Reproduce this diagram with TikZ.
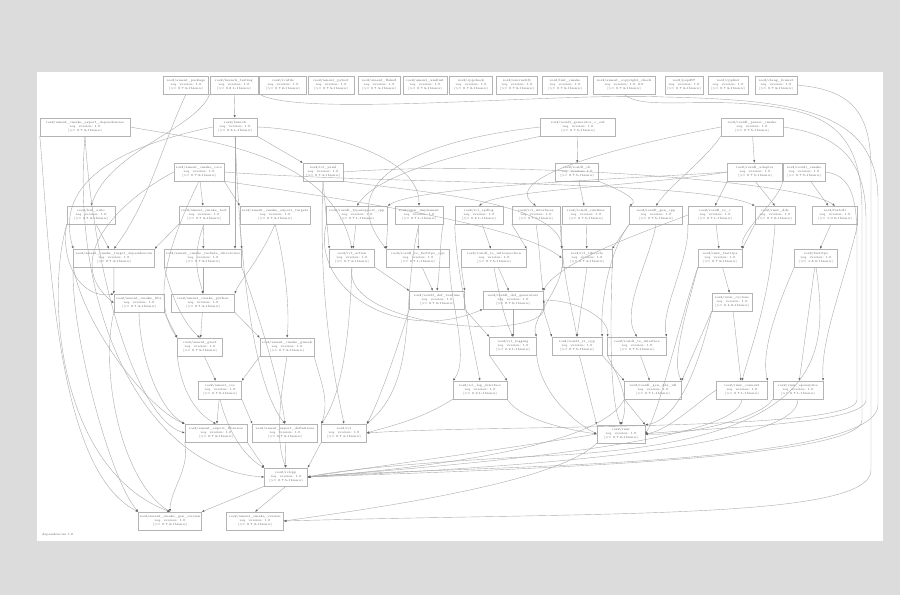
\documentclass[tikz,border=0pt]{standalone}
\usetikzlibrary{arrows.meta}
\definecolor{bggray}{HTML}{DCDCDC}
\definecolor{edgegray}{HTML}{ABABAB}
\definecolor{boxgray}{HTML}{B4B4B4}
\begin{document}
\begin{tikzpicture}[x=1pt,y=-1pt]
\tikzstyle{pkg}=[rectangle,draw=boxgray,fill=white,line width=0.4pt,inner sep=1pt,minimum height=18pt,align=center,text=black!65,font=\fontsize{3.1}{3.9}\selectfont]
\tikzset{
	dep/.style={draw=edgegray,line width=0.4pt,-{Latex[length=2.6pt,width=2.1pt,color=black!60]}},
	legend text/.style={text=black!65,font=\fontsize{3.1}{3.8}\selectfont,inner sep=0}
}
\useasboundingbox (0,0) rectangle (900,595);
\fill[bggray] (0,0) rectangle (900,595);
\fill[white] (37,72) rectangle (883,541);

\node[pkg,minimum width=45pt] (amentpkg) at (186,85) {ros2/ament\_package\\req. version: 1.0\\(>= 0.7.3-1bionic)};
\node[pkg,minimum width=48pt] (launchtest) at (234,85) {ros2/launch\_testing\\req. version: 1.0\\(>= 0.8.1-1bionic)};
\node[pkg,minimum width=47pt] (rcutils) at (283,85) {ros2/rcutils\\req. version: 1.0\\(>= 0.7.2-1bionic)};
\node[pkg,minimum width=46pt] (pytest) at (331,85) {ros2/ament\_pytest\\req. version: 1.0\\(>= 0.7.3-1bionic)};
\node[pkg,minimum width=42pt] (flakeeight) at (379,85) {ros2/ament\_flake8\\req. version: 1.0\\(>= 0.7.3-1bionic)};
\node[pkg,minimum width=44pt] (xmllint) at (425,85) {ros2/ament\_xmllint\\req. version: 1.0\\(>= 0.7.3-1bionic)};
\node[pkg,minimum width=43pt] (cppcheck) at (471,85) {ros2/cppcheck\\req. version: 1.0\\(>= 0.7.3-1bionic)};
\node[pkg,minimum width=41pt] (uncrust) at (517,85) {ros2/uncrustify\\req. version: 1.0\\(>= 0.7.3-1bionic)};
\node[pkg,minimum width=45pt] (lintcmake) at (565,85) {ros2/lint\_cmake\\req. version: 1.0\\(>= 0.7.3-1bionic)};
\node[pkg,minimum width=62pt] (copyright) at (624,85) {ros2/ament\_copyright\_check\\req. version: 1.0, 2.0\\(>= 0.7.3-1bionic)};
\node[pkg,minimum width=38pt] (pepdoc) at (684,85) {ros2/pep257\\req. version: 1.0\\(>= 0.7.3-1bionic)};
\node[pkg,minimum width=40pt] (cpplint) at (728,85) {ros2/cpplint\\req. version: 1.0\\(>= 0.7.3-1bionic)};
\node[pkg,minimum width=42pt] (clangfmt) at (776,85) {ros2/clang\_format\\req. version: 1.0\\(>= 0.7.3-1bionic)};

\node[pkg,minimum width=90pt] (exportdeps) at (85,127) {ros2/ament\_cmake\_export\_dependencies\\req. version: 1.0\\(>= 0.7.3-1bionic)};
\node[pkg,minimum width=44pt] (launch) at (235,127) {ros2/launch\\req. version: 1.0\\(>= 0.8.1-1bionic)};
\node[pkg,minimum width=75pt] (genc) at (578,127) {ros2/rosidl\_generator\_c\_ext\\req. version: 1.0\\(>= 0.7.5-1bionic)};
\node[pkg,minimum width=62pt] (parser) at (752,127) {ros2/rosidl\_parser\_cmake\\req. version: 1.0\\(>= 0.7.5-1bionic)};

\node[pkg,minimum width=50pt] (cmakecore) at (199,172) {ros2/ament\_cmake\_core\\req. version: 1.0\\(>= 0.7.3-1bionic)};
\node[pkg,minimum width=40pt] (rclyaml) at (323,172) {ros2/rcl\_yaml\\req. version: 1.0\\(>= 0.7.4-1bionic)};
\node[pkg,minimum width=43pt] (rosidlcli) at (577,172) {ros2/rosidl\_cli\\req. version: 1.0\\(>= 0.7.5-1bionic)};
\node[pkg,minimum width=55pt] (adapter) at (755,172) {ros2/rosidl\_adapter\\req. version: 1.0\\(>= 0.7.5-1bionic)};
\node[pkg,minimum width=42pt] (rosidlcmake) at (804,172) {ros2/rosidl\_cmake\\req. version: 1.0\\(>= 0.7.5-1bionic)};

\node[pkg,minimum width=48pt] (lintauto) at (91,215) {ros2/lint\_auto\\req. version: 1.0\\(>= 0.7.3-1bionic)};
\node[pkg,minimum width=50pt] (cmaketest) at (204,215) {ros2/ament\_cmake\_test\\req. version: 1.0\\(>= 0.7.3-1bionic)};
\node[pkg,minimum width=70pt] (exporttargets) at (275,215) {ros2/ament\_cmake\_export\_targets\\req. version: 1.0\\(>= 0.7.3-1bionic)};
\node[pkg,minimum width=61pt] (tscpp) at (357,215) {ros2/rosidl\_typesupport\_cpp\\req. version: 1.0\\(>= 0.7.1-1bionic)};
\node[pkg,minimum width=48pt] (rmwimpl) at (419,215) {ros2/rmw\_implement\\req. version: 1.0\\(>= 0.7.1-1bionic)};
\node[pkg,minimum width=48pt] (spdlog) at (479,215) {ros2/rcl\_spdlog\\req. version: 1.0\\(>= 0.2.1-1bionic)};
\node[pkg,minimum width=48pt] (rclifaces) at (536,215) {ros2/rcl\_interfaces\\req. version: 1.0\\(>= 0.7.4-1bionic)};
\node[pkg,minimum width=48pt] (runtimec) at (586,215) {ros2/rosidl\_runtime\\req. version: 1.0\\(>= 0.7.5-1bionic)};
\node[pkg,minimum width=53pt] (gencpp) at (656,215) {ros2/rosidl\_gen\_cpp\\req. version: 1.0\\(>= 0.7.5-1bionic)};
\node[pkg,minimum width=54pt] (tsc) at (715,215) {ros2/rosidl\_ts\_c\\req. version: 1.0\\(>= 0.7.1-1bionic)};
\node[pkg,minimum width=40pt] (rmwdds) at (775,215) {ros2/rmw\_dds\\req. version: 1.0\\(>= 0.7.2-1bionic)};
\node[pkg,minimum width=45pt] (fastcdr) at (835,215) {ros2/fastcdr\\req. version: 1.0\\(>= 1.0.9-1bionic)};

\node[pkg,minimum width=81pt] (targetdeps) at (114,258) {ros2/ament\_cmake\_target\_dependencies\\req. version: 1.0\\(>= 0.7.3-1bionic)};
\node[pkg,minimum width=77pt] (includedirs) at (203,258) {ros2/ament\_cmake\_include\_directories\\req. version: 1.0\\(>= 0.7.3-1bionic)};
\node[pkg,minimum width=45pt] (rclaction) at (352,258) {ros2/rcl\_action\\req. version: 1.0\\(>= 0.7.4-1bionic)};
\node[pkg,minimum width=63pt] (tsfast) at (418,258) {ros2/rosidl\_ts\_fastrtps\_cpp\\req. version: 1.0\\(>= 0.7.1-1bionic)};
\node[pkg,minimum width=65pt] (tsintro) at (494,258) {ros2/rosidl\_ts\_introspection\\req. version: 1.0\\(>= 0.7.5-1bionic)};
\node[pkg,minimum width=50pt] (lifecycle) at (587,258) {ros2/rcl\_lifecycle\\req. version: 1.0\\(>= 0.7.4-1bionic)};
\node[pkg,minimum width=44pt] (rmwfast) at (720,258) {ros2/rmw\_fastrtps\\req. version: 1.0\\(>= 0.7.3-1bionic)};
\node[pkg,minimum width=43pt] (fastrtps) at (816,258) {ros2/fastrtps\\req. version: 1.0\\(>= 1.8.0-1bionic)};

\node[pkg,minimum width=50pt] (cmakelibs) at (139,303) {ros2/ament\_cmake\_libs\\req. version: 1.0\\(>= 0.7.3-1bionic)};
\node[pkg,minimum width=63pt] (pyexport) at (203,303) {ros2/ament\_cmake\_python\\req. version: 1.0\\(>= 0.7.3-1bionic)};
\node[pkg,minimum width=55pt] (defruntime) at (437,300) {ros2/rosidl\_def\_runtime\\req. version: 1.0\\(>= 0.7.0-1bionic)};
\node[pkg,minimum width=60pt] (defgen) at (513,300) {ros2/rosidl\_def\_generators\\req. version: 1.0\\(>= 0.7.0-1bionic)};
\node[pkg,minimum width=40pt] (cyclone) at (732,302) {ros2/rmw\_cyclone\\req. version: 1.0\\(>= 0.4.0-1bionic)};

\node[pkg,minimum width=45pt] (gtest) at (200,347) {ros2/ament\_gtest\\req. version: 1.0\\(>= 0.7.3-1bionic)};
\node[pkg,minimum width=54pt] (gmock) at (287,347) {ros2/ament\_cmake\_gmock\\req. version: 1.0\\(>= 0.7.3-1bionic)};
\node[pkg,minimum width=47pt] (rcllogging) at (513,346) {ros2/rcl\_logging\\req. version: 1.0\\(>= 0.2.1-1bionic)};
\node[pkg,minimum width=50pt] (runtimecpp) at (577,346) {ros2/rosidl\_rt\_cpp\\req. version: 1.0\\(>= 0.7.5-1bionic)};
\node[pkg,minimum width=59pt] (tsiface) at (637,346) {ros2/rosidl\_ts\_interface\\req. version: 1.0\\(>= 0.7.5-1bionic)};

\node[pkg,minimum width=43pt] (cmakeros) at (220,390) {ros2/ament\_ros\\req. version: 1.0\\(>= 0.7.0-1bionic)};
\node[pkg,minimum width=54pt] (logiface) at (480,390) {ros2/rcl\_log\_interface\\req. version: 1.0\\(>= 0.2.1-1bionic)};
\node[pkg,minimum width=57pt] (gendds) at (653,390) {ros2/rosidl\_gen\_dds\_idl\\req. version: 1.0\\(>= 0.7.1-1bionic)};
\node[pkg,minimum width=51pt] (connext) at (742,390) {ros2/rmw\_connext\\req. version: 1.0\\(>= 0.7.1-1bionic)};
\node[pkg,minimum width=50pt] (opensplice) at (798,390) {ros2/rmw\_opensplice\\req. version: 1.0\\(>= 0.7.1-1bionic)};

\node[pkg,minimum width=62pt] (exportlibs) at (216,433) {ros2/ament\_export\_libraries\\req. version: 1.0\\(>= 0.7.3-1bionic)};
\node[pkg,minimum width=65pt] (exportdefs) at (285,433) {ros2/ament\_export\_definitions\\req. version: 1.0\\(>= 0.7.3-1bionic)};
\node[pkg,minimum width=45pt] (rcl) at (344,433) {ros2/rcl\\req. version: 1.0\\(>= 0.7.4-1bionic)};
\node[pkg,minimum width=48pt] (rmw) at (621,434) {ros2/rmw\\req. version: 1.0\\(>= 0.7.2-1bionic)};

\node[pkg,minimum width=43pt] (rclcpp) at (286,477) {ros2/rclcpp\\req. version: 1.0\\(>= 0.7.5-1bionic)};

\node[pkg,minimum width=60pt] (genversion) at (170,521) {ros2/ament\_cmake\_gen\_version\\req. version: 1.0\\(>= 0.7.3-1bionic)};
\node[pkg,minimum width=57pt] (cmakeversion) at (255,521) {ros2/ament\_cmake\_version\\req. version: 1.0\\(>= 0.7.3-1bionic)};

\node[legend text,anchor=west] (legend) at (42,535) {dependencies 1.0};

\draw[dep] (launchtest) -- (launch);
\draw[dep] (launchtest.south west) .. controls (195,130) and (110,150) .. (lintauto.north);
\draw[dep] (amentpkg.south) .. controls (160,150) and (150,200) .. (targetdeps.north);
\draw[dep] (rcutils.south west) .. controls (300,118) and (560,92) .. (665,97) .. controls (800,100) and (878,112) .. (878,200) -- (878,405) .. controls (878,470) and (420,466) .. (rclcpp.east);
\draw[dep] (clangfmt.east) .. controls (850,90) and (871,110) .. (871,170) -- (871,470) .. controls (871,520) and (600,512) .. (cmakeversion.east);
\draw[dep] (copyright.south) .. controls (640,110) and (700,98) .. (760,105) .. controls (820,112) and (862,125) .. (862,210) -- (862,420) .. controls (862,460) and (500,470) .. (rclcpp.east);

\draw[dep] (exportdeps.south west) .. controls (50,250) and (55,470) .. (genversion.north west);
\draw[dep] (exportdeps.south) .. controls (70,320) and (150,470) .. (rclcpp.west);
\draw[dep] (exportdeps.south) .. controls (95,290) and (140,420) .. (exportlibs.west);
\draw[dep] (exportdeps.east) .. controls (200,140) and (330,150) .. (rclaction.north);
\draw[dep] (launch.south east) -- (rclyaml.north west);
\draw[dep] (launch.west) .. controls (150,140) and (50,170) .. (targetdeps.north west);
\draw[dep] (launch.south) -- (launch.south |- includedirs.north);
\draw[dep] (launch.east) .. controls (300,128) and (420,150) .. (rmwimpl.north);
\draw[dep] (launch.south) .. controls (240,250) and (250,380) .. (exportdefs.north);
\draw[dep] (genc) -- (rosidlcli);
\draw[dep] (genc.south west) .. controls (480,150) and (380,170) .. (tscpp.north);
\draw[dep] (genc.west) .. controls (420,140) and (330,180) .. (tsfast.north west);
\draw[dep] (parser) -- (adapter);
\draw[dep] (parser.south west) .. controls (705,160) and (670,185) .. (gencpp.north);
\draw[dep] (parser.east) .. controls (840,135) and (866,160) .. (866,220) -- (866,400) .. controls (866,425) and (700,428) .. (rmw.east);
\draw[dep] (parser.west) .. controls (600,150) and (500,180) .. (rclifaces.north);

\draw[dep] (cmakecore) -- (cmaketest);
\draw[dep] (cmakecore.south east) -- (exporttargets.north west);
\draw[dep] (cmakecore.south east) .. controls (350,200) and (520,225) .. (lifecycle.west);
\draw[dep] (cmakecore.east) .. controls (400,185) and (700,180) .. (rmwdds.north west);
\draw[dep] (cmakecore.west) .. controls (120,200) and (60,260) .. (cmakelibs.west);
\draw[dep] (cmakecore.south) .. controls (170,240) and (150,300) .. (gtest.north west);
\draw[dep] (rclyaml.south) -- (rclaction.north west);
\draw[dep] (rclyaml.south) .. controls (318,300) and (335,380) .. (rcl.north);
\draw[dep] (rclyaml.east) .. controls (500,160) and (800,180) .. (fastcdr.north);
\draw[dep] (rclyaml.south east) .. controls (400,190) and (560,200) .. (lifecycle.north west);
\draw[dep] (rosidlcli) -- (runtimec);
\draw[dep] (rosidlcli.south east) .. controls (620,190) and (640,200) .. (gencpp.north west);
\draw[dep] (adapter.south west) -- (tsc.north);
\draw[dep] (adapter.south) -- (rmwdds.north);
\draw[dep] (adapter.west) .. controls (650,178) and (420,185) .. (tscpp.north east);
\draw[dep] (adapter.west) .. controls (640,186) and (500,190) .. (spdlog.north);
\draw[dep] (rosidlcmake) -- (fastcdr);
\draw[dep] (rosidlcmake.south west) .. controls (780,200) and (740,230) .. (rmwfast.north east);
\draw[dep] (rosidlcmake.east) .. controls (850,175) and (857,195) .. (857,240) -- (857,400) .. controls (857,432) and (500,424) .. (rcl.east);

\draw[dep] (lintauto) -- (targetdeps);
\draw[dep] (lintauto.south west) .. controls (60,260) and (80,300) .. (cmakelibs.north west);
\draw[dep] (lintauto.south west) .. controls (45,300) and (60,470) .. (genversion.north);
\draw[dep] (cmaketest) -- (includedirs);
\draw[dep] (cmaketest.south west) -- (targetdeps.north east);
\draw[dep] (cmaketest.south) .. controls (190,260) and (200,280) .. (pyexport.north);
\draw[dep] (exporttargets.south west) -- (includedirs.north east);
\draw[dep] (exporttargets.south) .. controls (260,260) and (240,280) .. (pyexport.north east);
\draw[dep] (exporttargets.south) .. controls (285,260) and (290,310) .. (gmock.north);
\draw[dep] (tscpp) -- (rclaction);
\draw[dep] (tscpp.south east) -- (tsfast.north west);
\draw[dep] (tscpp.south west) .. controls (310,290) and (400,345) .. (defgen.south west);
\draw[dep] (rmwimpl) -- (tsfast);
\draw[dep] (rmwimpl.south east) .. controls (440,240) and (440,270) .. (defruntime.north);
\draw[dep] (rmwimpl.south) .. controls (400,300) and (420,380) .. (rcl.north east);
\draw[dep] (spdlog) -- (tsintro);
\draw[dep] (spdlog.south west) .. controls (455,260) and (470,330) .. (logiface.north);
\draw[dep] (rclifaces.south west) -- (tsintro.north east);
\draw[dep] (rclifaces.south east) -- (lifecycle.north west);
\draw[dep] (rclifaces.south) .. controls (540,250) and (540,270) .. (defgen.north east);
\draw[dep] (runtimec) -- (lifecycle);
\draw[dep] (runtimec.south west) .. controls (560,260) and (570,300) .. (runtimecpp.north);
\draw[dep] (gencpp.south west) -- (lifecycle.north east);
\draw[dep] (gencpp.south) .. controls (650,260) and (620,310) .. (tsiface.north);
\draw[dep] (gencpp.south west) .. controls (610,250) and (600,300) .. (runtimecpp.north east);
\draw[dep] (tsc) -- (rmwfast);
\draw[dep] (tsc.south west) .. controls (690,260) and (660,310) .. (tsiface.north east);
\draw[dep] (tsc.west) .. controls (650,230) and (560,260) .. (defgen.north east);
\draw[dep] (rmwdds.south west) -- (rmwfast.north east);
\draw[dep] (rmwdds.south) .. controls (770,300) and (750,350) .. (connext.north);
\draw[dep] (fastcdr) -- (fastrtps);
\draw[dep] (fastcdr.south east) .. controls (845,280) and (820,340) .. (opensplice.north east);

\draw[dep] (targetdeps) -- (cmakelibs.north west);
\draw[dep] (targetdeps.south west) .. controls (85,330) and (150,410) .. (exportlibs.north west);
\draw[dep] (targetdeps.south west) .. controls (70,330) and (110,480) .. (genversion.north west);
\draw[dep] (includedirs) -- (pyexport);
\draw[dep] (includedirs.south west) .. controls (170,290) and (180,320) .. (gtest.north);
\draw[dep] (includedirs.south east) .. controls (250,290) and (280,380) .. (exportdefs.north);
\draw[dep] (rclaction.south east) -- (defruntime.north west);
\draw[dep] (rclaction.south) .. controls (350,320) and (345,390) .. (rcl.north west);
\draw[dep] (rclaction.south) .. controls (340,330) and (560,345) .. (defgen.east);
\draw[dep] (tsfast) -- (defruntime);
\draw[dep] (tsfast.south east) .. controls (450,300) and (470,360) .. (logiface.north west);
\draw[dep] (tsintro.south west) -- (defruntime.north east);
\draw[dep] (tsintro) -- (defgen);
\draw[dep] (tsintro.south) .. controls (500,300) and (505,320) .. (rcllogging.north);
\draw[dep] (lifecycle.south) -- (runtimecpp.north);
\draw[dep] (lifecycle.south west) .. controls (560,290) and (530,320) .. (rcllogging.north east);
\draw[dep] (lifecycle.south east) .. controls (610,330) and (610,400) .. (rmw.north);
\draw[dep] (rmwfast) -- (cyclone);
\draw[dep] (rmwfast.south west) .. controls (690,300) and (670,360) .. (gendds.north east);
\draw[dep] (rmwfast.south west) .. controls (680,320) and (660,410) .. (rmw.east);
\draw[dep] (fastrtps) -- (opensplice);
\draw[dep] (fastrtps.south west) .. controls (780,300) and (760,350) .. (connext.north east);
\draw[dep] (fastrtps.south) .. controls (830,360) and (820,440) .. (560,455) .. controls (420,462) and (340,470) .. (rclcpp.east);

\draw[dep] (cmakelibs.south east) -- (gtest.north west);
\draw[dep] (cmakelibs.south) .. controls (140,360) and (160,410) .. (exportlibs.north west);
\draw[dep] (cmakelibs.south west) .. controls (100,370) and (120,480) .. (genversion.north);
\draw[dep] (pyexport) -- (gtest);
\draw[dep] (pyexport.south east) -- (gmock.north west);
\draw[dep] (defruntime.south east) -- (rcllogging.north west);
\draw[dep] (defruntime.south west) .. controls (400,340) and (380,400) .. (rcl.north east);
\draw[dep] (defgen) -- (rcllogging);
\draw[dep] (defgen.south east) -- (runtimecpp.north west);
\draw[dep] (defgen.east) .. controls (580,300) and (610,320) .. (tsiface.north west);
\draw[dep] (cyclone) -- (connext);
\draw[dep] (cyclone.south west) -- (gendds.north east);
\draw[dep] (cyclone.south west) .. controls (700,360) and (680,420) .. (rmw.north east);

\draw[dep] (gtest) -- (cmakeros);
\draw[dep] (gtest.south west) .. controls (180,380) and (190,410) .. (exportlibs.north);
\draw[dep] (gmock.south west) -- (cmakeros.north east);
\draw[dep] (gmock.south east) .. controls (320,380) and (330,400) .. (rcl.north west);
\draw[dep] (gmock.south) .. controls (280,400) and (275,440) .. (rclcpp.north);
\draw[dep] (rcllogging.south west) -- (logiface.north east);
\draw[dep] (rcllogging.south east) .. controls (540,390) and (570,420) .. (rmw.west);
\draw[dep] (runtimecpp) -- (rmw.north west);
\draw[dep] (runtimecpp.south east) -- (gendds.north west);
\draw[dep] (tsiface) -- (gendds);
\draw[dep] (tsiface.south west) .. controls (620,380) and (630,400) .. (rmw.north);

\draw[dep] (cmakeros) -- (exportlibs);
\draw[dep] (cmakeros.south east) -- (exportdefs.north west);
\draw[dep] (cmakeros.south) .. controls (230,440) and (250,460) .. (rclcpp.north west);
\draw[dep] (logiface.south west) .. controls (420,420) and (390,426) .. (rcl.east);
\draw[dep] (logiface.south east) .. controls (520,420) and (570,430) .. (rmw.west);
\draw[dep] (gendds.south west) -- (rmw.north east);
\draw[dep] (gendds.south west) .. controls (600,450) and (400,470) .. (rclcpp.east);
\draw[dep] (connext.west) .. controls (700,400) and (670,430) .. (rmw.east);
\draw[dep] (connext.south) .. controls (740,440) and (500,462) .. (rclcpp.east);
\draw[dep] (opensplice.south west) .. controls (760,420) and (680,436) .. (rmw.east);
\draw[dep] (opensplice.south) .. controls (800,450) and (500,468) .. (rclcpp.east);

\draw[dep] (exportlibs.south east) -- (rclcpp.north west);
\draw[dep] (exportlibs.south west) .. controls (190,470) and (170,490) .. (genversion.north);
\draw[dep] (exportdefs) -- (rclcpp);
\draw[dep] (rcl.south west) -- (rclcpp.north east);
\draw[dep] (rmw.west) .. controls (500,450) and (350,470) .. (rclcpp.east);
\draw[dep] (rmw.south west) .. controls (560,480) and (400,505) .. (cmakeversion.east);
\draw[dep] (rclcpp.south west) -- (genversion.north east);
\draw[dep] (rclcpp.south) -- (cmakeversion.north);
\end{tikzpicture}
\end{document}
